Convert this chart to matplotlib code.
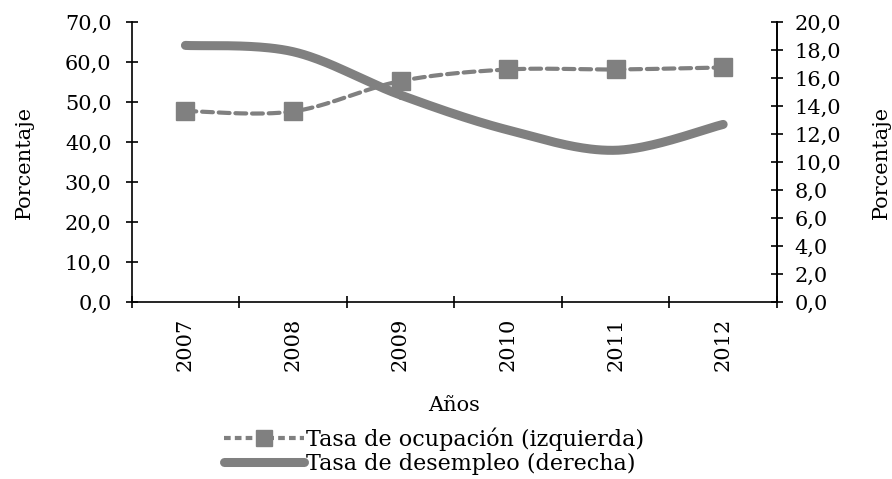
import numpy as np
import matplotlib
matplotlib.use('Agg')
import matplotlib.pyplot as plt
from matplotlib.ticker import FuncFormatter, MultipleLocator

plt.rcParams['font.family'] = 'DejaVu Serif'
plt.rcParams['font.size'] = 15

years = ['2007', '2008', '2009', '2010', '2011', '2012']
ocupacion = [47.8, 47.7, 55.3, 58.2, 58.2, 58.7]
desempleo = [18.35, 17.9, 14.8, 12.3, 10.85, 12.7]

gris = '#808080'


def suavizar(x, y, n=40):
    # curva tipo Catmull-Rom, como la linea suavizada de Excel
    p = np.column_stack([x, y]).astype(float)
    p = np.vstack([p[0], p, p[-1]])
    xs, ys = [], []
    for i in range(1, len(p) - 2):
        p0, p1, p2, p3 = p[i - 1], p[i], p[i + 1], p[i + 2]
        t = np.linspace(0, 1, n)[:, None]
        c = 0.5 * (2 * p1 + (-p0 + p2) * t + (2 * p0 - 5 * p1 + 4 * p2 - p3) * t ** 2
                   + (-p0 + 3 * p1 - 3 * p2 + p3) * t ** 3)
        xs.extend(c[:, 0])
        ys.extend(c[:, 1])
    return np.array(xs), np.array(ys)


x = np.arange(len(years))
coma = FuncFormatter(lambda v, pos: f'{v:.1f}'.replace('.', ','))

fig = plt.figure(figsize=(8.92, 4.79), dpi=100)
ax = fig.add_axes([0.1476, 0.3695, 0.7234, 0.5839])
ax2 = ax.twinx()

sx, sy = suavizar(x, ocupacion)
ax.plot(sx, sy, color=gris, lw=3, dashes=(2.6, 1.4), dash_capstyle='round')
ax.plot(x, ocupacion, 's', color=gris, ms=13.5, ls='none')

dx, dy = suavizar(x, desempleo)
ax2.plot(dx, dy, color=gris, lw=6.5, solid_capstyle='round')

ax.set_xlim(-0.5, 5.5)
ax.set_ylim(0, 70)
ax2.set_ylim(0, 20)
ax.yaxis.set_major_locator(MultipleLocator(10))
ax2.yaxis.set_major_locator(MultipleLocator(2))
ax.yaxis.set_major_formatter(coma)
ax2.yaxis.set_major_formatter(coma)

ax.set_xticks(x)
ax.set_xticklabels(years, rotation=90)
ax.set_xticks(np.arange(-0.5, 6, 1), minor=True)
ax.tick_params(axis='x', which='major', length=0, pad=11)
ax.tick_params(axis='x', which='minor', length=9, direction='inout', width=1.2)
ax.tick_params(axis='y', length=9, direction='inout', width=1.2, pad=10)
ax2.tick_params(axis='y', length=9, direction='inout', width=1.2, pad=8)

for a in (ax, ax2):
    a.spines['top'].set_visible(False)
    for s in a.spines.values():
        s.set_linewidth(1.2)
ax2.spines['left'].set_visible(False)
ax2.spines['bottom'].set_visible(False)

ax.set_ylabel('Porcentaje', labelpad=22)
ax2.set_ylabel('Porcentaje', labelpad=22)
ax.set_xlabel('Años', labelpad=18)

h1, = ax.plot([], [], color=gris, lw=3, dashes=(1.6, 1.0), marker='s', ms=11)
h2, = ax.plot([], [], color=gris, lw=6.5, solid_capstyle='round')
fig.legend([h1, h2], ['Tasa de ocupación (izquierda)', 'Tasa de desempleo (derecha)'],
           loc='center', bbox_to_anchor=(0.487, 0.058), frameon=False, fontsize=16,
           handlelength=3.6, handletextpad=0.1, labelspacing=0.1, borderpad=0)

fig.savefig('out.png', dpi=100)
